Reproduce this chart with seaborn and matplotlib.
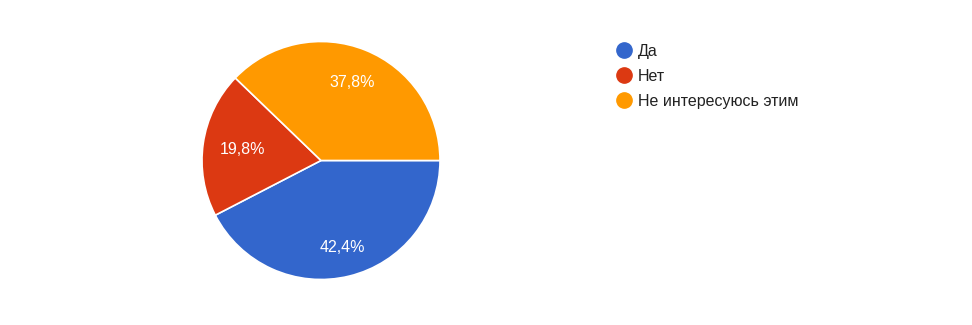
import matplotlib
matplotlib.use("Agg")
import matplotlib.pyplot as plt
from matplotlib import font_manager as fm
from matplotlib.lines import Line2D
import seaborn as sns

categories = ["Да", "Нет", "Не интересуюсь этим"]
values = [42.4, 19.8, 37.8]
colors = ["#3366cc", "#dc3912", "#ff9900"]

sns.set_theme(style="white")

# pick regular (non-narrow) Liberation Sans
fpath = None
for f in fm.fontManager.ttflist:
    if f.name == "Liberation Sans" and "Narrow" not in f.fname and f.style == "normal" and f.weight in (400, "normal", "regular"):
        fpath = f.fname
        break
if fpath:
    fam = fm.FontProperties(fname=fpath).get_name()
else:
    fam = "DejaVu Sans"
plt.rcParams['font.family'] = [fam, 'DejaVu Sans']


def fp(size):
    if fpath:
        return fm.FontProperties(fname=fpath, size=size)
    return fm.FontProperties(family="DejaVu Sans", size=size)


W, H = 972, 325
fig = plt.figure(figsize=(W / 100, H / 100), dpi=100)
fig.patch.set_facecolor("white")

cx, cy, r = 321, 160.5, 119
ax = fig.add_axes([(cx - r) / W, (H - cy - r) / H, 2 * r / W, 2 * r / H])
palette = sns.color_palette(colors)
pct_dist = 0.75
wedges, texts, autotexts = ax.pie(
    values, colors=palette, startangle=0, counterclock=False,
    autopct=lambda p: f"{p:.1f}%".replace(".", ","), pctdistance=pct_dist,
    wedgeprops=dict(edgecolor="white", linewidth=1.2),
    textprops=dict(color="white"),
    radius=1.0,
)
# Google Charts pulls labels inward for narrower slices
label_dist = [0.75, 0.67, 0.71]
for t, d in zip(autotexts, label_dist):
    t.set_fontproperties(fp(11.5))
    x, y = t.get_position()
    t.set_position((x * d / pct_dist, y * d / pct_dist))
ax.set_xlim(-1, 1)
ax.set_ylim(-1, 1)
ax.set_aspect("equal")
ax.axis("off")

handles = [Line2D([0], [0], marker="o", linestyle="", markersize=11,
                  markerfacecolor=c, markeredgecolor=c) for c in colors]
leg = fig.legend(handles, categories, loc="upper left",
           bbox_to_anchor=(616 / W, (H - 44) / H), frameon=False,
           prop=fp(11.5), handletextpad=0.35, labelspacing=0.62,
           handlelength=1.0, borderaxespad=0, borderpad=0,
           labelcolor="#222222")

fig.savefig("out.png", dpi=100, facecolor="white")
